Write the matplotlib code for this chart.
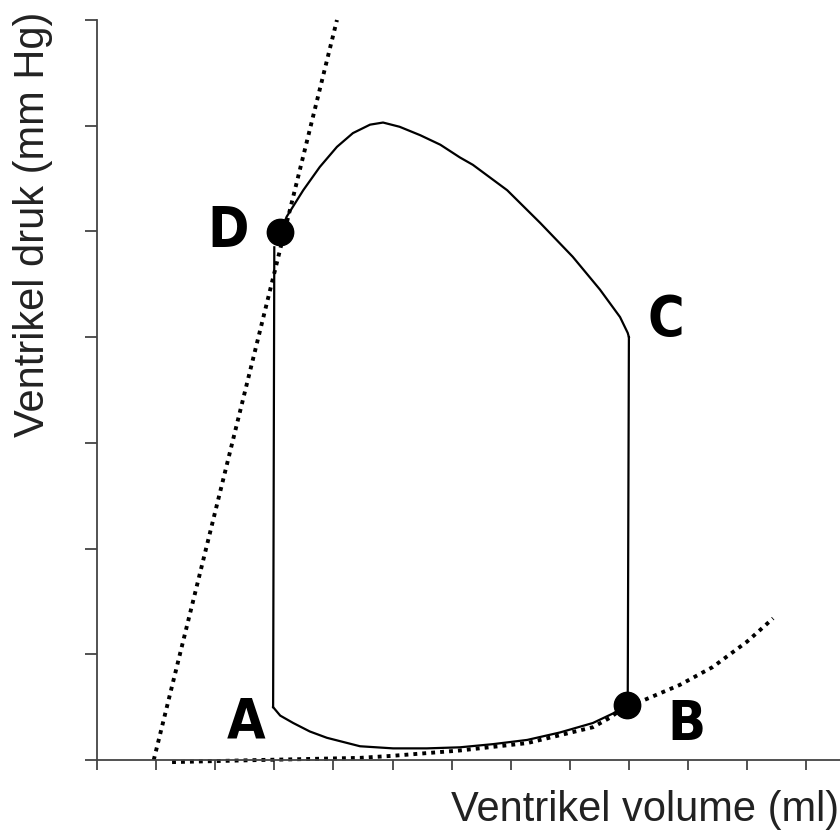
import matplotlib
matplotlib.use("Agg")
import matplotlib.pyplot as plt

# pressure-volume loop (arbitrary units)
# A -> B filling curve
fill_vol = [2.98, 3.10, 3.32, 3.60, 3.89, 4.45, 5.01, 5.58, 6.14, 6.70, 7.28, 7.83, 8.39, 8.73, 8.97]
fill_p = [0.50, 0.42, 0.35, 0.27, 0.21, 0.13, 0.11, 0.11, 0.12, 0.15, 0.19, 0.26, 0.35, 0.44, 0.52]

# B -> C isovolumetric contraction
contr_vol = [8.98, 9.0]
contr_p = [0.52, 4.0]

# C -> D ejection (drawn from C back to D)
eject_vol = [9.0, 8.98, 8.85, 8.51, 8.05, 7.50, 6.94, 6.36, 6.14, 5.81, 5.47, 5.12,
             4.84, 4.62, 4.33, 4.06, 3.77, 3.49, 3.21, 3.10]
eject_p = [4.0, 4.04, 4.19, 4.45, 4.76, 5.08, 5.39, 5.63, 5.70, 5.82, 5.91, 5.99,
           6.03, 6.01, 5.93, 5.80, 5.61, 5.39, 5.14, 4.99]

# D -> A isovolumetric relaxation
relax_vol = [3.0, 2.98]
relax_p = [4.85, 0.50]

# end-systolic and end-diastolic pressure-volume relations
espvr_vol = [0.96, 4.06]
espvr_p = [0.0, 7.0]
edpvr_vol = [1.27, 2.76, 4.45, 5.01, 6.14, 7.28, 8.39, 8.68, 8.97, 9.27, 9.86, 10.42, 11.0, 11.44]
edpvr_p = [-0.02, 0.0, 0.02, 0.04, 0.09, 0.16, 0.31, 0.40, 0.52, 0.57, 0.71, 0.88, 1.12, 1.34]

points_vol = [3.10, 8.97]
points_p = [4.99, 0.52]

labels = ["A", "B", "C", "D"]
label_vol = [2.52, 9.98, 9.63, 2.22]
label_p = [0.35, 0.33, 4.16, 5.0]

fig = plt.figure(figsize=(8.4, 8.34), dpi=100)
ax = fig.add_axes([97 / 840, 74 / 834, 743 / 840, 740 / 834])

dots = (0, (1, 1.3))
ax.plot(edpvr_vol, edpvr_p, color="black", lw=2.8, linestyle=dots, clip_on=False)
ax.plot(espvr_vol, espvr_p, color="black", lw=2.8, linestyle=dots, clip_on=False)

ax.plot(fill_vol, fill_p, color="black", lw=1.6)
ax.plot(contr_vol, contr_p, color="black", lw=1.6)
ax.plot(eject_vol, eject_p, color="black", lw=1.6)
ax.plot(relax_vol, relax_p, color="black", lw=1.6)

ax.plot(points_vol, points_p, "o", color="black", ms=19, zorder=5)

for lab, x, y in zip(labels, label_vol, label_p):
    ax.text(x, y, lab, fontsize=40, fontweight="bold", fontstretch="condensed",
            ha="center", va="center", family="DejaVu Sans")

ax.set_xlim(0, 743 / 59.1)
ax.set_ylim(0, 7)
ax.set_xticks(range(0, 13))
ax.set_yticks(range(0, 8))
ax.set_xticklabels([])
ax.set_yticklabels([])
ax.tick_params(axis="x", direction="out", length=7, width=1.3, color="#444444")
ax.tick_params(axis="y", direction="out", length=9, width=1.3, color="#444444")
for s in ["top", "right"]:
    ax.spines[s].set_visible(False)
for s in ["left", "bottom"]:
    ax.spines[s].set_linewidth(1.3)
    ax.spines[s].set_color("#444444")

fig.text(839 / 840, 1 - 810 / 834, "Ventrikel volume (ml)", ha="right", va="center",
         fontsize=30, color="#222222", family="Liberation Sans")
fig.text(33 / 840, 1 - 224 / 834, "Ventrikel druk (mm Hg)", ha="center", va="center",
         rotation=90, fontsize=30, color="#222222", family="Liberation Sans")

fig.savefig("out.png", dpi=100)
